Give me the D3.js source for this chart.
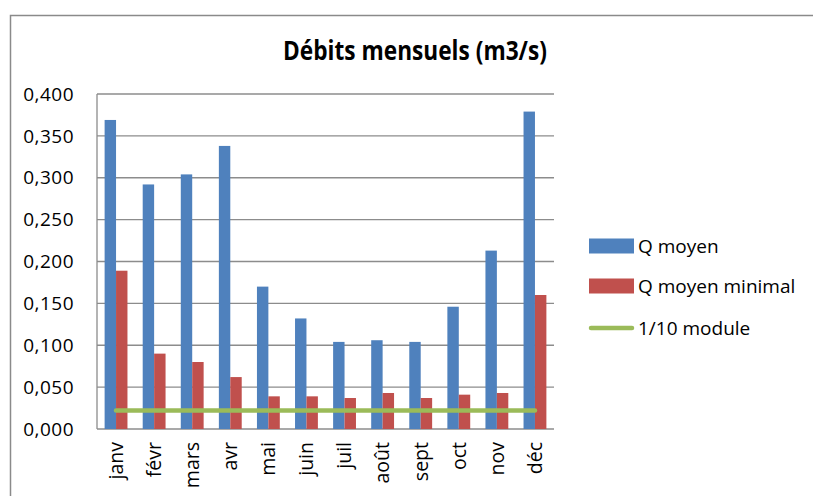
<!DOCTYPE html>
<html><head><meta charset="utf-8">
<script src="https://cdn.jsdelivr.net/npm/d3@7"></script>
<style>body{margin:0;background:#fff;} svg{display:block;font-family:"Open Sans",sans-serif;}</style>
</head><body>
<svg id="c" width="813" height="496"></svg>
<script>
const months = ["janv","févr","mars","avr","mai","juin","juil","août","sept","oct","nov","déc"];
const qMoyen = [0.369,0.292,0.304,0.338,0.170,0.132,0.104,0.106,0.104,0.146,0.213,0.379];
const qMinimal = [0.189,0.090,0.080,0.062,0.039,0.039,0.037,0.043,0.037,0.041,0.043,0.160];
const module10 = [0.022,0.022,0.022,0.022,0.022,0.022,0.022,0.022,0.022,0.022,0.022,0.022];
const yTicks = [0,0.05,0.1,0.15,0.2,0.25,0.3,0.35,0.4];
const seriesNames = ["Q moyen","Q moyen minimal","1/10 module"];
const colors = ["#4f81bd","#c0504d","#9bbb59"];

const svg = d3.select("#c");
// outer frame
svg.append("path").attr("d","M10.5,496 V15.5 H813").attr("fill","none").attr("stroke","#8a8a8a").attr("stroke-width",1.5);

const L=97, R=554, T=94, B=429;
const x = d3.scaleBand().domain(months).range([L,R]).paddingInner(0.4).paddingOuter(0.2);
const xs = d3.scaleBand().domain([0,1]).range([0,x.bandwidth()]);
const y = d3.scaleLinear().domain([0,0.4]).range([B,T]);

// gridlines
svg.append("g").selectAll("line").data(yTicks).join("line")
  .attr("x1",L).attr("x2",R).attr("y1",d=>y(d)).attr("y2",d=>y(d))
  .attr("stroke","#8c8c8c").attr("stroke-width",1.3);
// left axis line
svg.append("line").attr("x1",L).attr("x2",L).attr("y1",T).attr("y2",B).attr("stroke","#8c8c8c").attr("stroke-width",1.3);

// y labels
const fmt = d => d3.format(".3f")(d).replace(".",",");
svg.append("g").selectAll("text").data(yTicks).join("text")
  .attr("x",74).attr("y",d=>y(d)).attr("dy","0.35em").attr("text-anchor","end")
  .attr("font-size",19).attr("letter-spacing",0.5).attr("fill","#000").text(fmt);

// bars
const gBars = svg.append("g");
[qMoyen,qMinimal].forEach((s,i)=>{
  gBars.append("g").selectAll("rect").data(s).join("rect")
    .attr("x",(d,j)=>x(months[j])+xs(i)).attr("width",xs.bandwidth())
    .attr("y",d=>y(d)).attr("height",d=>B-y(d)).attr("fill",colors[i]);
});

// line
const line = d3.line().x((d,j)=>x(months[j])+x.bandwidth()/2).y(d=>y(d));
svg.append("path").datum(module10).attr("d",line).attr("fill","none")
  .attr("stroke",colors[2]).attr("stroke-width",4.5).attr("stroke-linecap","round");

// x labels
svg.append("g").selectAll("text").data(months).join("text")
  .attr("transform",d=>`translate(${x(d)+x.bandwidth()/2},442) rotate(-90)`)
  .attr("dy","0.35em").attr("text-anchor","end").attr("font-size",19.5).text(d=>d);

// title
svg.append("text").attr("transform","translate(415,60) scale(0.84,1)").attr("text-anchor","middle")
  .attr("font-size",27).attr("font-weight","bold").text("Débits mensuels (m3/s)");

// legend
const lg = svg.append("g");
const ly = [246,286,328];
seriesNames.forEach((n,i)=>{
  if(i<2) lg.append("rect").attr("x",589).attr("y",ly[i]-7.5).attr("width",45).attr("height",15).attr("fill",colors[i]);
  else lg.append("line").attr("x1",591).attr("x2",632).attr("y1",ly[i]).attr("y2",ly[i]).attr("stroke",colors[i]).attr("stroke-width",4.5).attr("stroke-linecap","round");
  lg.append("text").attr("x",638).attr("y",ly[i]).attr("dy","0.35em").attr("font-size",19).text(n);
});
</script>
</body></html>
